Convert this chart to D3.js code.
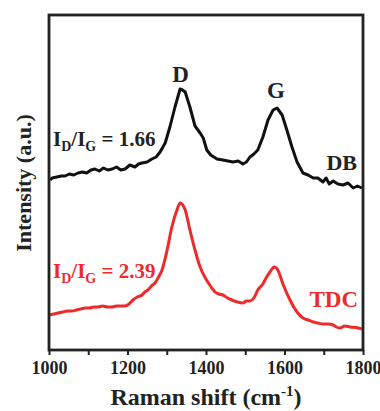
<!DOCTYPE html>
<html lang="en">
<head>
    <meta charset="utf-8">
    <title>Raman</title>
    <style type="text/css">
        body { margin: 0; background: #fff; }
        .chart text { font-family: "Liberation Serif", "Times New Roman", serif; font-weight: bold; }
    </style>
</head>
<body>
   <svg class="chart" width="380" height="411"></svg>

   <script src="https://d3js.org/d3.v7.min.js"></script>
   <script>
        // 数据 (读自原图, 任意单位)
        var dbShift = [1003, 1008, 1020, 1032, 1041, 1052, 1063, 1074, 1085, 1096, 1107, 1117, 1128, 1139, 1150, 1161, 1172, 1183, 1194, 1206, 1219, 1228, 1237, 1250, 1262, 1273, 1283, 1296, 1308, 1321, 1334, 1340, 1347, 1359, 1372, 1385, 1393, 1402, 1412, 1428, 1443, 1456, 1469, 1482, 1494, 1503, 1512, 1522, 1532, 1545, 1558, 1571, 1581, 1594, 1606, 1619, 1632, 1647, 1660, 1673, 1685, 1698, 1706, 1714, 1724, 1736, 1749, 1762, 1775, 1786, 1797];
        var dbIntensity = [1700, 1720, 1730, 1740, 1740, 1760, 1750, 1770, 1780, 1770, 1800, 1810, 1790, 1820, 1800, 1810, 1830, 1800, 1810, 1850, 1830, 1860, 1870, 1880, 1910, 1930, 1980, 2070, 2230, 2430, 2610, 2600, 2580, 2430, 2240, 2170, 2120, 2000, 1950, 1910, 1900, 1890, 1880, 1890, 1860, 1880, 1930, 1960, 2000, 2130, 2300, 2400, 2420, 2350, 2200, 2030, 1880, 1770, 1750, 1720, 1720, 1680, 1720, 1660, 1690, 1660, 1650, 1670, 1620, 1640, 1620];

        var tdcShift = [1000, 1012, 1023, 1035, 1047, 1059, 1070, 1081, 1092, 1103, 1114, 1125, 1137, 1149, 1161, 1172, 1183, 1194, 1204, 1214, 1225, 1237, 1244, 1252, 1261, 1270, 1279, 1288, 1301, 1313, 1326, 1334, 1347, 1359, 1372, 1385, 1397, 1403, 1413, 1423, 1433, 1443, 1455, 1466, 1480, 1494, 1503, 1512, 1522, 1532, 1545, 1553, 1563, 1574, 1583, 1596, 1614, 1632, 1647, 1660, 1673, 1685, 1698, 1711, 1724, 1732, 1741, 1754, 1767, 1782, 1797];
        var tdcIntensity = [350, 360, 370, 380, 390, 390, 400, 410, 420, 420, 430, 430, 440, 430, 430, 440, 440, 440, 460, 500, 530, 550, 580, 600, 640, 670, 730, 800, 1000, 1230, 1400, 1470, 1400, 1200, 1000, 830, 730, 690, 630, 580, 560, 550, 520, 500, 480, 470, 490, 490, 520, 600, 660, 720, 780, 830, 800, 660, 500, 380, 320, 300, 280, 270, 260, 260, 250, 230, 220, 240, 230, 225, 210];

        var xTicks = [1000, 1200, 1400, 1600, 1800];
        var xMinorTicks = [1100, 1300, 1500, 1700];

        var svg = d3.select('.chart'),
            margin = {top: 15, right: 17, bottom: 61, left: 49},
            width = +svg.attr('width') - margin.left - margin.right,
            height = +svg.attr('height') - margin.top - margin.bottom;

        var g = svg.append('g')
                   .attr('transform', 'translate(' + margin.left + ',' + margin.top + ')');

        var x = d3.scaleLinear().domain([1000, 1800]).range([0, width]);
        var y = d3.scaleLinear().domain([0, 3350]).range([height, 0]);

        var line = d3.line()
                     .x(function(d) { return x(d[0]); })
                     .y(function(d) { return y(d[1]); });

        var dbData = d3.zip(dbShift, dbIntensity);
        var tdcData = d3.zip(tdcShift, tdcIntensity);

        g.append('path')
         .datum(dbData)
         .attr('fill', 'none')
         .attr('stroke', '#111')
         .attr('stroke-width', 3)
         .attr('stroke-linejoin', 'round')
         .attr('d', line.curve(d3.curveLinear));

        g.append('path')
         .datum(tdcData)
         .attr('fill', 'none')
         .attr('stroke', '#ee2a2a')
         .attr('stroke-width', 3)
         .attr('stroke-linejoin', 'round')
         .attr('d', line.curve(d3.curveMonotoneX));

        // 坐标轴
        var xAxis = g.append('g')
                     .attr('transform', 'translate(0,' + height + ')')
                     .call(d3.axisBottom(x).tickValues(xTicks).tickSize(5).tickPadding(6).tickFormat(d3.format('d')));
        xAxis.select('.domain').remove();
        xAxis.selectAll('line').attr('stroke', '#222').attr('stroke-width', 2);
        xAxis.selectAll('text').attr('font-size', 18).attr('fill', '#222');

        var xMinor = g.append('g')
                      .attr('transform', 'translate(0,' + height + ')')
                      .call(d3.axisBottom(x).tickValues(xMinorTicks).tickSize(5).tickFormat(''));
        xMinor.select('.domain').remove();
        xMinor.selectAll('line').attr('stroke', '#222').attr('stroke-width', 2);

        // 边框
        g.append('rect')
         .attr('width', width)
         .attr('height', height)
         .attr('fill', 'none')
         .attr('stroke', '#222')
         .attr('stroke-width', 2.8);

        // 标注
        g.append('text').attr('x', x(1335)).attr('y', 67).attr('text-anchor', 'middle')
         .attr('font-size', 23).attr('fill', '#222').text('D');
        g.append('text').attr('x', x(1578)).attr('y', 83).attr('text-anchor', 'middle')
         .attr('font-size', 23).attr('fill', '#222').text('G');

        function ratio(yPos, value, color) {
            var t = g.append('text').attr('x', 4).attr('y', yPos).attr('font-size', 21).attr('fill', color);
            t.append('tspan').text('I');
            t.append('tspan').attr('font-size', 14).attr('dy', 5).text('D');
            t.append('tspan').attr('dy', -5).text('/I');
            t.append('tspan').attr('font-size', 14).attr('dy', 5).text('G');
            t.append('tspan').attr('dy', -5).text(' = ' + value);
        }
        ratio(131, '1.66', '#222');
        ratio(263, '2.39', '#ee2a2a');

        g.append('text').attr('x', width - 6).attr('y', 155).attr('text-anchor', 'end')
         .attr('font-size', 22).attr('fill', '#222').text('DB');
        g.append('text').attr('x', width - 5).attr('y', 292).attr('text-anchor', 'end')
         .attr('font-size', 23).attr('fill', '#ee2a2a').text('TDC');

        // 轴标题
        var xt = svg.append('text')
           .attr('x', margin.left + width / 2).attr('y', 405)
           .attr('text-anchor', 'middle').attr('font-size', 24).attr('fill', '#222');
        xt.append('tspan').text('Raman shift (cm');
        xt.append('tspan').attr('font-size', 15).attr('dy', -9).text('-1');
        xt.append('tspan').attr('dy', 9).text(')');

        svg.append('text')
           .attr('transform', 'translate(31,' + 183 + ') rotate(-90)')
           .attr('text-anchor', 'middle').attr('font-size', 22).attr('fill', '#222')
           .text('Intensity (a.u.)');
   </script>
</body>
</html>
